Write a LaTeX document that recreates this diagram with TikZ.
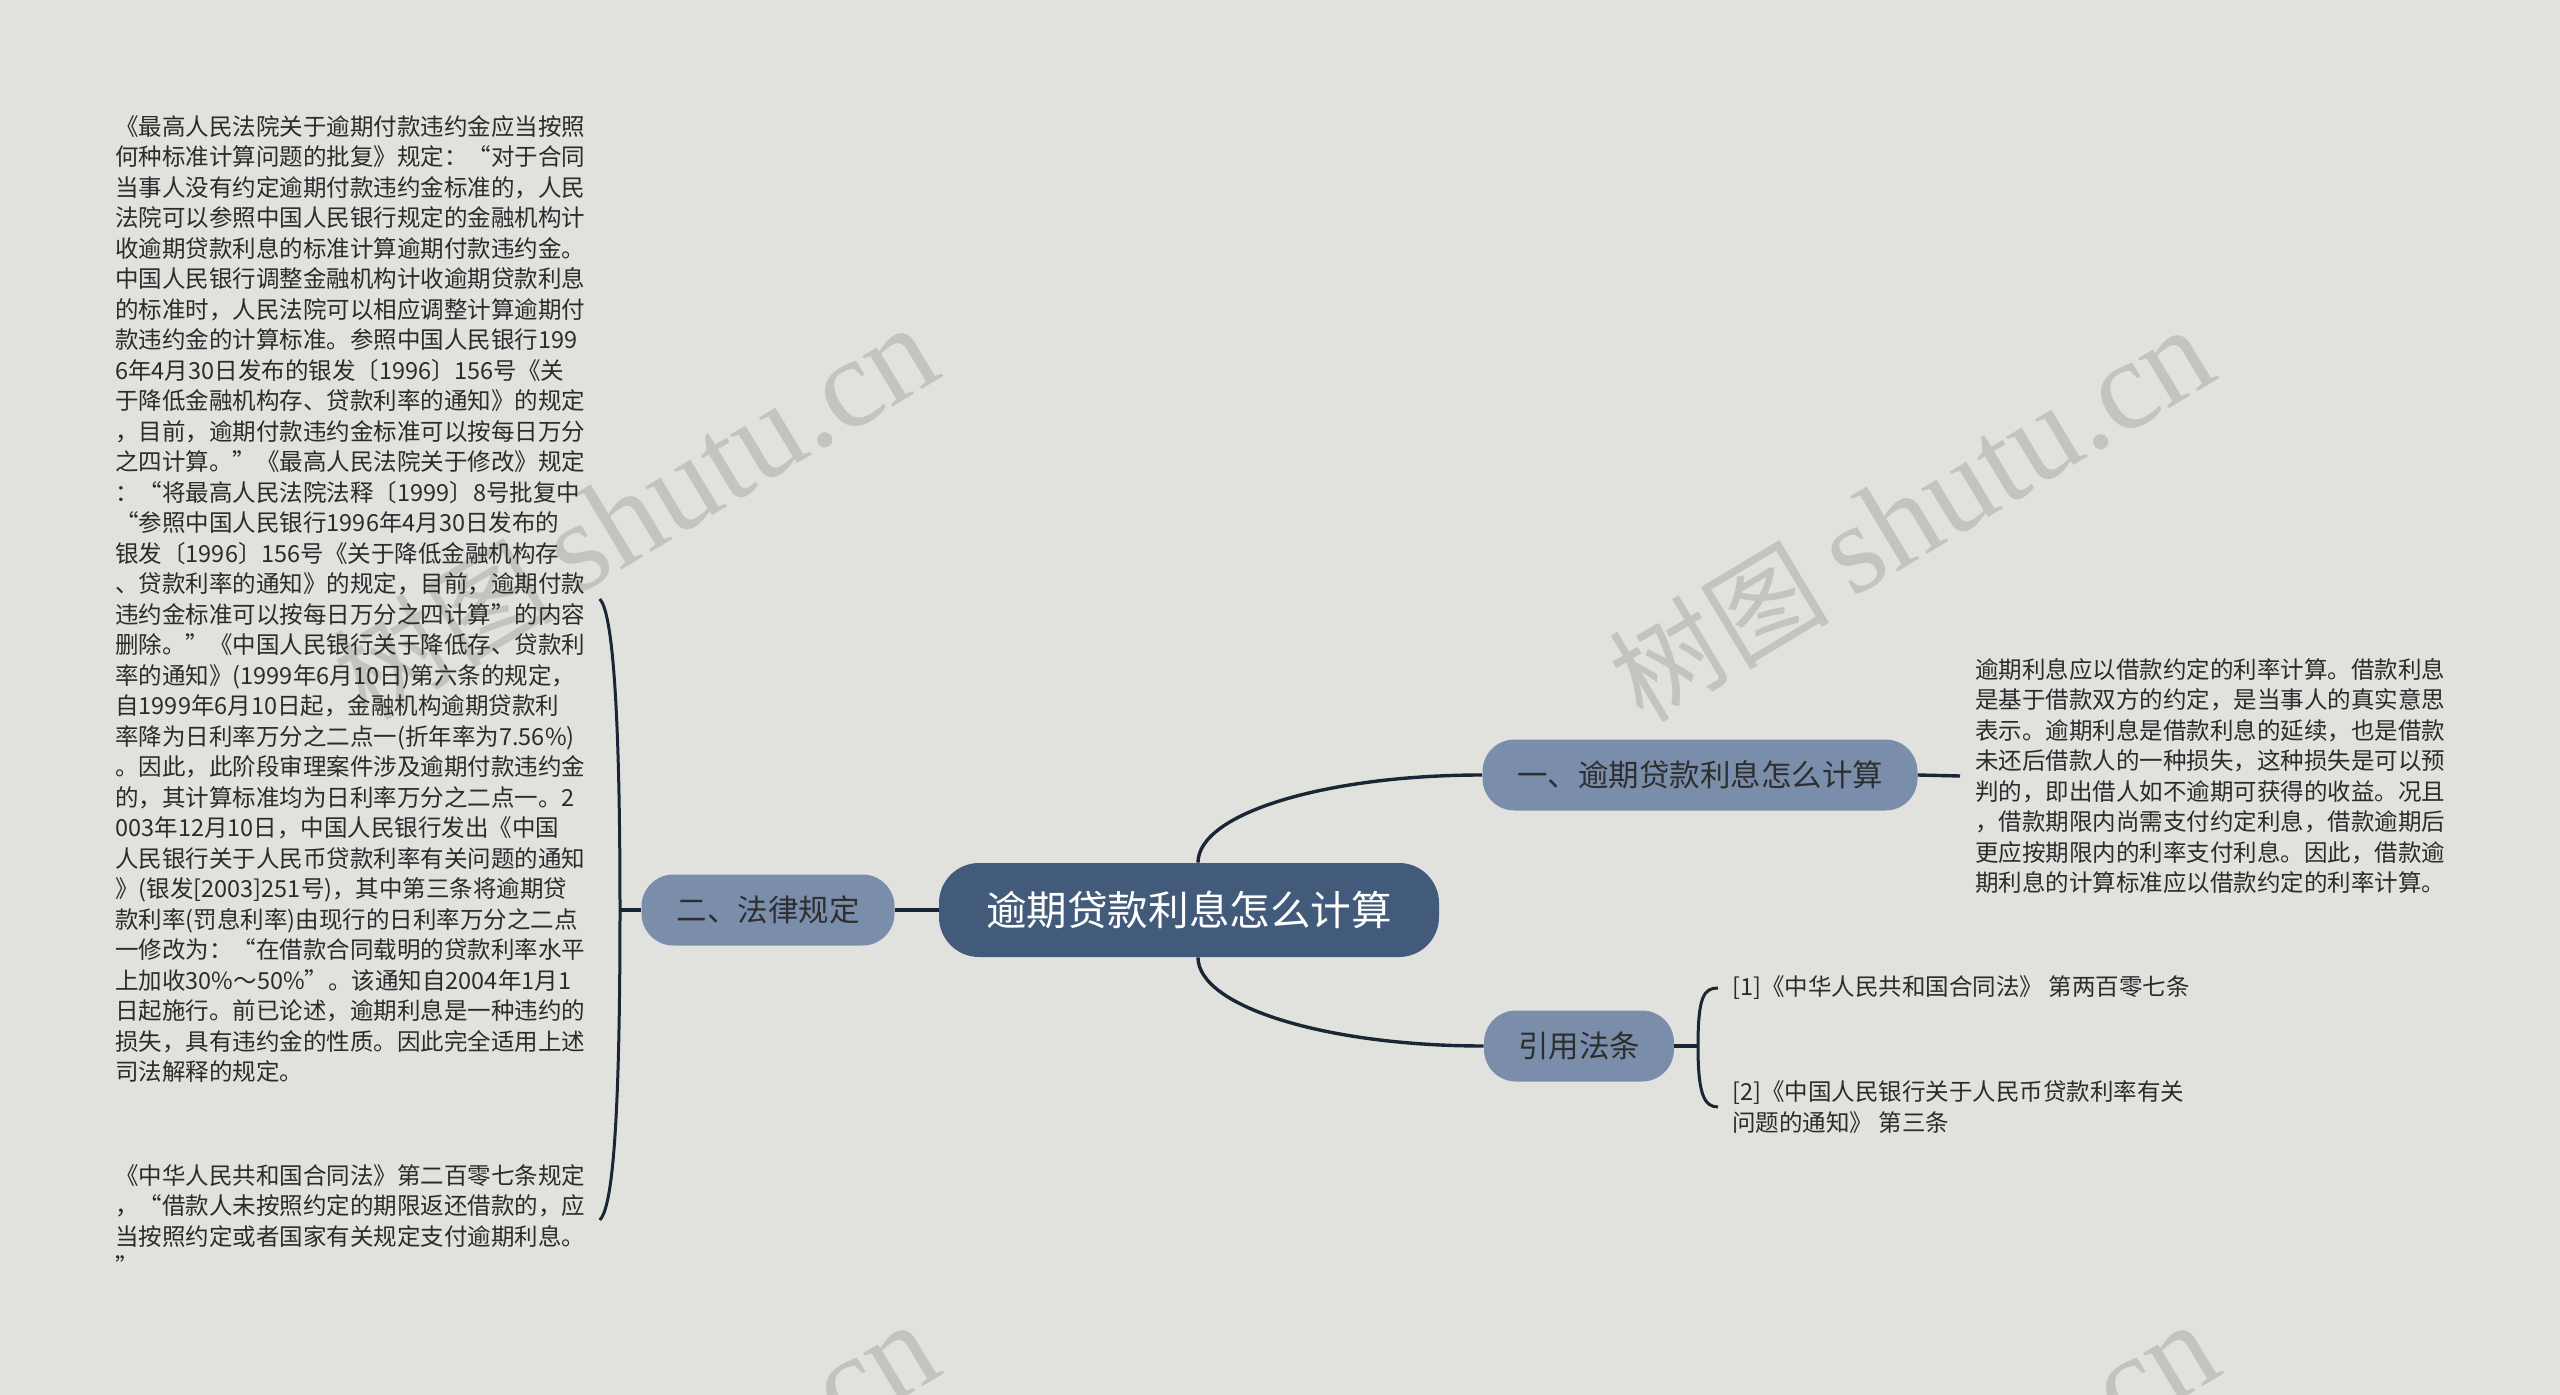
\documentclass[tikz,border=0pt]{standalone}
\usepackage{fontspec}
\setmainfont{Noto Sans CJK SC}
\newfontfamily\wmserif{Liberation Serif}
\definecolor{bgc}{HTML}{E1E2DE}
\definecolor{rootc}{HTML}{435B7A}
\definecolor{subc}{HTML}{7A8EAC}
\definecolor{subtext}{HTML}{2E2E2E}
\definecolor{bodyc}{HTML}{2B2B2B}
\definecolor{linkc}{HTML}{1A2535}
\definecolor{wmc}{HTML}{C3C4BF}
\newcommand{\wmtext}{{\fontsize{55pt}{58pt}\selectfont 树图}\hspace{12pt}{\wmserif\fontsize{64pt}{70pt}\selectfont shutu.cn}}
\tikzset{
  rootnode/.style={fill=rootc, rounded corners=20pt, minimum width=250pt, minimum height=47pt,
    text=white, inner sep=0pt, font=\fontsize{20.3pt}{24pt}\selectfont},
  subnode/.style={fill=subc, rounded corners=16pt, minimum height=35.5pt, text=subtext,
    inner sep=0pt, font=\fontsize{15.25pt}{18pt}\selectfont},
  bodytext/.style={text=bodyc, align=left, inner sep=0pt, anchor=west,
    font=\fontsize{11.75pt}{15.25pt}\selectfont},
  link/.style={draw=linkc, line width=1.7pt},
  brace/.style={draw=linkc, line width=1.5pt},
  wmark/.style={text=wmc, rotate=31, anchor=base east, inner sep=0pt}
}
\begin{document}
\begin{tikzpicture}[x=0.5pt,y=-0.5pt]
\useasboundingbox (0,0) rectangle (2560,1395);
\fill[bgc] (0,0) rectangle (2560,1395);

% watermarks
\node[wmark] (wm1) at (946,375) {\wmtext};
\node[wmark] (wm2) at (2222,377) {\wmtext};
\node[wmark] (wm3) at (947,1372) {\wmtext};
\node[wmark] (wm4) at (2227,1372) {\wmtext};

% main nodes
\node[rootnode] (c) at (1189,910) {逾期贷款利息怎么计算};
\node[subnode, minimum width=217.5pt] (n1) at (1700,775) {一、逾期贷款利息怎么计算};
\node[subnode, minimum width=126.5pt] (n2) at (768,910) {二、法律规定};
\node[subnode, minimum width=95pt] (n3) at (1579,1046) {引用法条};

% texts
\node[bodytext] (rt) at (1975,776) {逾期利息应以借款约定的利率计算。借款利息\\
是基于借款双方的约定，是当事人的真实意思\\
表示。逾期利息是借款利息的延续，也是借款\\
未还后借款人的一种损失，这种损失是可以预\\
判的，即出借人如不逾期可获得的收益。况且\\
，借款期限内尚需支付约定利息，借款逾期后\\
更应按期限内的利率支付利息。因此，借款逾\\
期利息的计算标准应以借款约定的利率计算。};

\node[bodytext] (r1) at (1732,988) {[1]《中华人民共和国合同法》 第两百零七条};
\node[bodytext] (r2) at (1732,1107) {[2]《中国人民银行关于人民币贷款利率有关\\
问题的通知》 第三条};

\node[bodytext] (t1) at (115,599) {《最高人民法院关于逾期付款违约金应当按照\\
何种标准计算问题的批复》规定：“对于合同\\
当事人没有约定逾期付款违约金标准的，人民\\
法院可以参照中国人民银行规定的金融机构计\\
收逾期贷款利息的标准计算逾期付款违约金。\\
中国人民银行调整金融机构计收逾期贷款利息\\
的标准时，人民法院可以相应调整计算逾期付\\
款违约金的计算标准。参照中国人民银行199\\
6年4月30日发布的银发〔1996〕156号《关\\
于降低金融机构存、贷款利率的通知》的规定\\
，目前，逾期付款违约金标准可以按每日万分\\
之四计算。”《最高人民法院关于修改》规定\\
：“将最高人民法院法释〔1999〕8号批复中\\
“参照中国人民银行1996年4月30日发布的\\
银发〔1996〕156号《关于降低金融机构存\\
、贷款利率的通知》的规定，目前，逾期付款\\
违约金标准可以按每日万分之四计算”的内容\\
删除。”《中国人民银行关于降低存、贷款利\\
率的通知》(1999年6月10日)第六条的规定，\\
自1999年6月10日起，金融机构逾期贷款利\\
率降为日利率万分之二点一(折年率为7.56\%)\\
。因此，此阶段审理案件涉及逾期付款违约金\\
的，其计算标准均为日利率万分之二点一。2\\
003年12月10日，中国人民银行发出《中国\\
人民银行关于人民币贷款利率有关问题的通知\\
》(银发[2003]251号)，其中第三条将逾期贷\\
款利率(罚息利率)由现行的日利率万分之二点\\
一修改为：“在借款合同载明的贷款利率水平\\
上加收30\%～50\%”。该通知自2004年1月1\\
日起施行。前已论述，逾期利息是一种违约的\\
损失，具有违约金的性质。因此完全适用上述\\
司法解释的规定。};

\node[bodytext] (t2) at (115,1220) {《中华人民共和国合同法》第二百零七条规定\\
，“借款人未按照约定的期限返还借款的，应\\
当按照约定或者国家有关规定支付逾期利息。\\
”};

% junctions
\coordinate (j2) at (620,910);
\coordinate (j3) at (1698,1046);

% connectors
\draw[link] ([xshift=4.5pt]c.north) .. controls +(0,-49) and +(-157,0) .. (n1.west);
\draw[link] ([xshift=4.5pt]c.south) .. controls +(0,49) and +(-158,0) .. (n3.west);
\draw[link] (c.west) -- (n2.east);
\draw[link] (n1.east) -- ([xshift=-7.5pt]rt.west);
\draw[link] (n2.west) -- (j2);
\draw[link] (n3.east) -- (j3);

\draw[brace] (j2) .. controls (620,700) and (612,612) .. ([xshift=7pt]t1.east);
\draw[brace] (j2) .. controls (620,1130) and (612,1208) .. ([xshift=7pt]t2.east);
\draw[brace] (j3) .. controls (1698,996) and (1704,988) .. ([xshift=-7pt]r1.west);
\draw[brace] (j3) .. controls (1698,1094) and (1704,1107) .. ([xshift=-7pt]r2.west);
\end{tikzpicture}
\end{document}
